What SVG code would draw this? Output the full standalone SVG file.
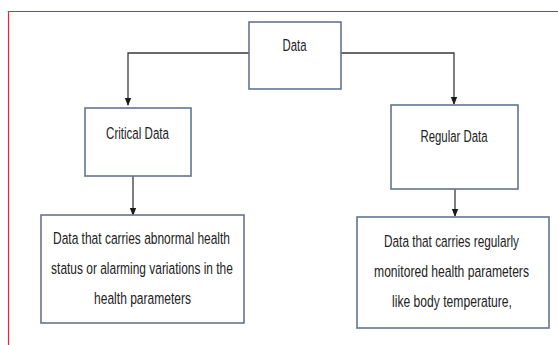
<svg xmlns="http://www.w3.org/2000/svg" width="558" height="345" viewBox="0 0 558 345">
<defs>
<style>
.box{fill:#fff;stroke:#64748f;stroke-width:1.6}
.lbl{font-family:"Liberation Sans",Arial,sans-serif;font-size:16.5px;fill:#222;text-anchor:middle}
.con{fill:none;stroke:#3a3a3a;stroke-width:1.3}
.frame{stroke:#e8262b;stroke-width:1.2;fill:none}
</style>
<marker id="arr" markerWidth="8" markerHeight="10" refX="7" refY="4" orient="auto" markerUnits="userSpaceOnUse" viewBox="0 0 8 8">
<path d="M0,0.8 L8,4 L0,7.2 Z" fill="#1a1a1a"/>
</marker>
</defs>
<rect width="558" height="345" fill="#fff"/>
<path class="frame" d="M8.5,345 L8.5,11.5 L558,11.5"/>
<g id="connectors">
<path class="con" d="M249,53 L128,53 L128,105" marker-end="url(#arr)"/>
<path class="con" d="M341,53 L454,53 L454,104" marker-end="url(#arr)"/>
<path class="con" d="M133,176 L133,215" marker-end="url(#arr)"/>
<path class="con" d="M455,189 L455,216" marker-end="url(#arr)"/>
</g>
<g id="data">
<rect class="box" x="249" y="22" width="92" height="67"/>
<text class="lbl" transform="translate(294.5,51) scale(0.69,1)">Data</text>
</g>
<g id="critical">
<rect class="box" x="85" y="108" width="106" height="68"/>
<text class="lbl" transform="translate(137.5,139) scale(0.70,1)">Critical Data</text>
</g>
<g id="regular">
<rect class="box" x="391" y="105" width="127" height="84"/>
<text class="lbl" transform="translate(454,142) scale(0.69,1)">Regular Data</text>
</g>
<g id="critical-desc">
<rect class="box" x="41" y="215" width="203" height="108"/>
<text class="lbl" transform="translate(141.5,244) scale(0.726,1)">Data that carries abnormal health</text>
<text class="lbl" transform="translate(142,274) scale(0.724,1)">status or alarming variations in the</text>
<text class="lbl" transform="translate(142.5,304) scale(0.729,1)">health parameters</text>
</g>
<g id="regular-desc">
<rect class="box" x="357" y="217" width="192" height="111"/>
<text class="lbl" transform="translate(451.5,247) scale(0.715,1)">Data that carries regularly</text>
<text class="lbl" transform="translate(451.5,277) scale(0.735,1)">monitored health parameters</text>
<text class="lbl" transform="translate(452,307) scale(0.735,1)">like body temperature,</text>
</g>
</svg>
